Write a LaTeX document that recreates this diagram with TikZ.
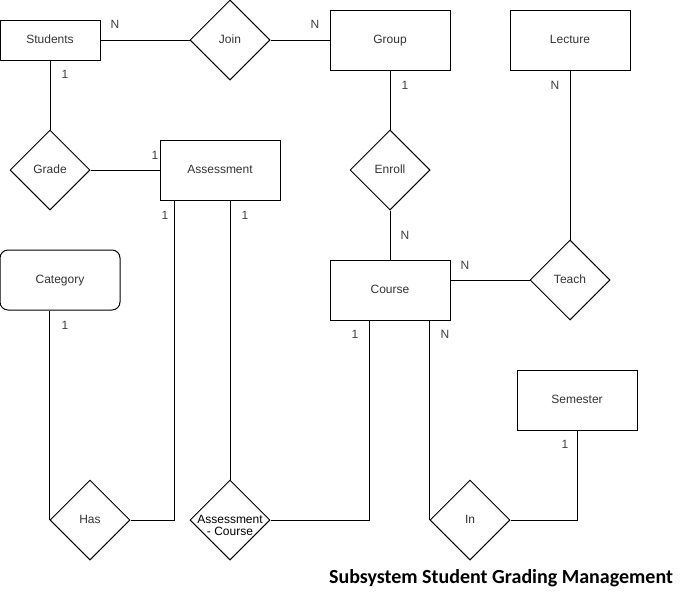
\documentclass[tikz,border=0pt]{standalone}
\usepackage{fontspec}
\setmainfont{Liberation Sans}
\newfontfamily\titlefont{Carlito}
\usetikzlibrary{shapes.geometric}
\begin{document}
\begin{tikzpicture}[x=1pt,y=-1pt,line width=1pt,
    ent/.style={draw,minimum width=120pt,minimum height=60pt,inner sep=0pt,
        text height=8.5pt,text depth=2.5pt,
        text=black!80,font=\fontsize{12}{14}\selectfont},
    rel/.style={draw,diamond,aspect=1,minimum size=80pt,inner sep=0pt,
        text height=8.5pt,text depth=2.5pt,
        text=black!80,font=\fontsize{12}{14}\selectfont},
    card/.style={text=black!75,font=\fontsize{12}{14}\selectfont}]
            \useasboundingbox (0,0) rectangle (688,600);
            % entities
            \node[ent,minimum width=100pt,minimum height=40pt] (students) at (50,40) {Students};
            \node[ent] (group) at (390,40) {Group};
            \node[ent] (lecture) at (570,40) {Lecture};
            \node[ent] (assess) at (220,170) {Assessment};
            \node[ent,rounded corners=8pt] (category) at (60,280) {Category};
            \node[ent] (course) at (390,290) {Course};
            \node[ent] (semester) at (577,400) {Semester};
            % relations
            \node[rel] (join) at (230,40) {Join};
            \node[rel] (grade) at (50,170) {Grade};
            \node[rel] (enroll) at (390,170) {Enroll};
            \node[rel] (teach) at (570,280) {Teach};
            \node[rel] (has) at (90,520) {Has};
            \node[rel,label={[text=black,align=center,yshift=-5pt,font=\fontsize{12}{12}\selectfont]center:Assessment\\- Course}] (ac) at (230,520) {};
            \node[rel] (in) at (470,520) {In};
            % links
            \draw (students) -- (join) -- (group);
            \draw (students) -- (grade) -- (assess);
            \draw (group) -- (enroll) -- (course);
            \draw (lecture) -- (teach);
            \draw (teach.west) -- (teach.west -| course.east);
            \draw (has.west |- category.south) -- (has.west);
            \draw ([xshift=15pt]assess.south west) |- (has.east);
            \draw (ac.north |- assess.south) -- (ac.north);
            \draw ([xshift=40pt]course.south west) |- (ac.east);
            \draw (in.west |- course.south) -- (in.west);
            \draw (semester) |- (in.east);
            % cardinalities
            \foreach \x/\y/\t in {115/24/N,315/24/N,65/74/1,155/155/1,165/215/1,245/215/1,
                405/85/1,555/85/N,405/235/N,465/265/N,355/334/1,445/334/N,65/325/1,565/444/1}
                \node[card] (c\x-\y) at (\x,\y) {\t};
            \node[font=\titlefont\bfseries\fontsize{20}{24}\selectfont] (title) at (501,578) {Subsystem Student Grading Management};
\end{tikzpicture}
\end{document}
